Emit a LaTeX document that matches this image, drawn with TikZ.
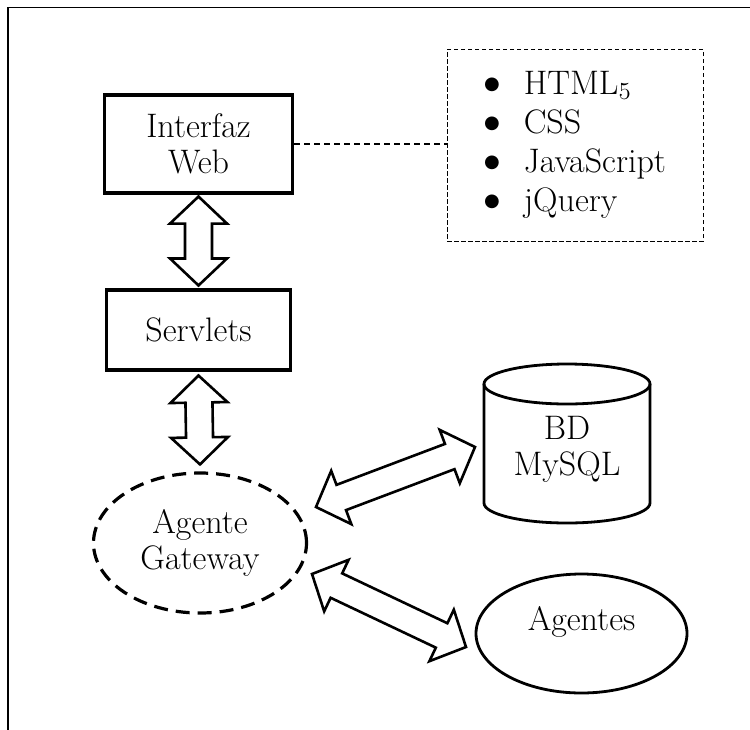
\documentclass[tikz,border=0pt]{standalone}
\usepackage{fontspec}
\newfontfamily\symfont{DejaVu Sans}
\usetikzlibrary{shapes.geometric,calc}

% hollow double-headed block arrow between two tip points
\newcommand\hollowarrow[3]{%
  \path ($(#2)!27pt!(#3)$) coordinate (#1-ha)
        ($(#3)!27pt!(#2)$) coordinate (#1-hb);
  \draw[barrow] (#2)
    -- ($(#1-ha)!28.5pt!90:(#3)$)
    -- ($(#1-ha)!13.5pt!90:(#3)$)
    -- ($(#1-hb)!13.5pt!-90:(#2)$)
    -- ($(#1-hb)!28.5pt!-90:(#2)$)
    -- (#3)
    -- ($(#1-hb)!28.5pt!90:(#2)$)
    -- ($(#1-hb)!13.5pt!90:(#2)$)
    -- ($(#1-ha)!13.5pt!-90:(#3)$)
    -- ($(#1-ha)!28.5pt!-90:(#3)$)
    -- cycle;
}
% list bullet
\newcommand\bigbullet{\raisebox{4.5pt}{\symfont\fontsize{18}{18}\selectfont ●}}
% old-style digit
\newcommand\osdigit[1]{{\usefont{OML}{lmm}{m}{it}#1}}

\begin{document}
\begin{tikzpicture}[x=1pt,y=-1pt,
  every node/.style={font=\fontsize{34}{36}\selectfont, align=center, inner sep=0pt},
  box/.style={draw, line width=3.1pt, rectangle},
  listbox/.style={draw, line width=1pt, dash pattern=on 4.5pt off 2.5pt, rectangle,
    font=\fontsize{34}{39}\selectfont},
  gwstyle/.style={draw, ellipse, line width=3.2pt, dash pattern=on 14pt off 8pt},
  agstyle/.style={draw, ellipse, line width=2.8pt},
  cylline/.style={line width=2.8pt},
  barrow/.style={draw, line width=2.6pt, line join=miter, fill=white},
  linkline/.style={line width=1.6pt, dash pattern=on 6pt off 4pt},
  frameline/.style={line width=1.7pt}]

\useasboundingbox (0,0) rectangle (750,729);

% outer frame (open at right and bottom)
\draw[frameline] (8,760) -- (8,7.5) -- (780,7.5);

% components
\node[box, minimum width=188, minimum height=98] (web) at (198.5,144) {Interfaz\\Web};
\node[box, minimum width=184, minimum height=80] (srv) at (198.5,330) {Servlets};
\node[listbox, minimum width=256, minimum height=192] (lst) at (575,145)
  {\begin{tabular}{@{}l@{\hspace{24pt}}l@{}}
   \bigbullet & HTML\osdigit{5}\\
   \bigbullet & CSS\\
   \bigbullet & JavaScript\\
   \bigbullet & jQuery
   \end{tabular}};
\node[gwstyle, minimum width=213, minimum height=140] (gw) at (200,543) {Agente\\Gateway};
\node[agstyle, minimum width=211, minimum height=119, text depth=30pt] (ag) at (581.5,633.5) {Agentes};

% database cylinder
\node (db) at (567,449) {BD\\MySQL};
\draw[cylline] ([shift={(-83,-65)}]db.center) -- ([shift={(-83,54)}]db.center)
  arc[start angle=180, end angle=360, x radius=83pt, y radius=20pt]
  -- ([shift={(83,-65)}]db.center);
\draw[cylline] ([shift={(0,-65)}]db.center) ellipse [x radius=83pt, y radius=20pt];

% dashed link to the technology list
\draw[linkline] (web.east) -- (web.east -| lst.west);

% arrow end points
\coordinate (w1) at ([yshift=-2pt]web.south);
\coordinate (s1) at ([yshift=3pt]srv.north);
\coordinate (s2) at ([yshift=-4pt]srv.south);
\coordinate (g0) at ([yshift=7pt]gw.north);
\coordinate (g1) at (316,507);
\coordinate (d1) at (475,447);
\coordinate (g2) at (312,574);
\coordinate (a1) at (466,647);

\hollowarrow{ws}{w1}{s1}
\hollowarrow{sg}{s2}{g0}
\hollowarrow{gd}{g1}{d1}
\hollowarrow{ga}{g2}{a1}

\end{tikzpicture}
\end{document}
